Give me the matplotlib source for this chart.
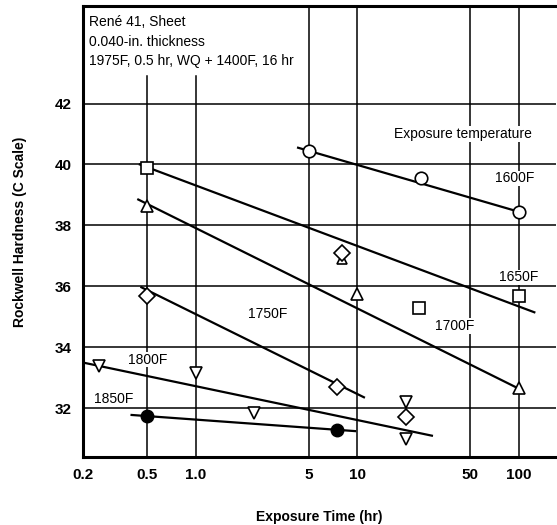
import matplotlib
matplotlib.use("Agg")
import matplotlib.pyplot as plt
from matplotlib.ticker import FixedLocator, NullLocator

plt.rcParams['font.family'] = ['Liberation Sans', 'DejaVu Sans']

# measured points (exposure time in hr, hardness HRC)
t_1600 = [5, 25, 100]
h_1600 = [40.45, 39.55, 38.45]
t_1650 = [0.5, 24, 100]
h_1650 = [39.9, 35.3, 35.7]
t_1700 = [0.5, 10, 100]
h_1700 = [38.65, 35.75, 32.65]
t_1750 = [0.5, 7.5, 20, 8]
h_1750 = [35.7, 32.7, 31.7, 37.1]
t_1700b = [8]
h_1700b = [36.9]
t_1800 = [0.25, 1.0, 2.3, 20, 20]
h_1800 = [33.4, 33.15, 31.85, 32.2, 31.0]
t_1850 = [0.5, 7.5]
h_1850 = [31.75, 31.3]

# fitted trend lines (end points)
fit_1600 = ([4.3, 100], [40.55, 38.45])
fit_1650 = ([0.45, 125], [40.0, 35.15])
fit_1700 = ([0.44, 104], [38.85, 32.6])
fit_1750 = ([0.46, 11], [35.97, 32.36])
fit_1800 = ([0.2, 29], [33.5, 31.1])
fit_1850 = ([0.4, 9.7], [31.78, 31.25])

xticks = [0.2, 0.5, 1.0, 5, 10, 50, 100]
xtick_labels = ["0.2", "0.5", "1.0", "5", "10", "50", "100"]
yticks = [32, 34, 36, 38, 40, 42]

fig = plt.figure(figsize=(5.57, 5.25), dpi=100)
ax = fig.add_axes([0.149, 0.1295, 0.849, 0.859])
ax.set_xscale("log")
ax.set_xlim(0.2, 170)
ax.set_ylim(30.4, 45.2)

# grid
for y in yticks:
    ax.axhline(y, color="black", lw=1.1, zorder=1)
for x in [5, 10, 50, 100]:
    ax.axvline(x, color="black", lw=1.1, zorder=1)
for x in [0.5, 1.0]:
    ax.plot([x, x], [30.4, 42.9], color="black", lw=1.1, zorder=1)

for xs, ys in [fit_1600, fit_1650, fit_1700, fit_1750, fit_1800, fit_1850]:
    ax.plot(xs, ys, color="black", lw=1.6, zorder=2)

mk = dict(linestyle="none", markerfacecolor="white", markeredgecolor="black",
          markeredgewidth=1.2, zorder=3)
ax.plot(t_1600, h_1600, marker="o", markersize=9, **mk)
ax.plot(t_1650, h_1650, marker="s", markersize=8, **mk)
ax.plot(t_1700, h_1700, marker="^", markersize=8, **mk)
ax.plot(t_1700b, h_1700b, marker="^", markersize=7, **mk)
ax.plot(t_1750, h_1750, marker="D", markersize=8, **mk)
ax.plot(t_1800, h_1800, marker="v", markersize=8, **mk)
ax.plot(t_1850, h_1850, marker="o", markersize=9, linestyle="none",
        color="black", zorder=3)

lab = dict(fontsize=10, ha="center", va="center", zorder=4,
           bbox=dict(facecolor="white", edgecolor="none", pad=0.5))
ax.text(45, 41.0, "Exposure temperature", **lab)
ax.text(95, 39.55, "1600F", **lab)
ax.text(100, 36.3, "1650F", **lab)
ax.text(2.8, 35.1, "1750F", **lab)
ax.text(40, 34.7, "1700F", **lab)
ax.text(0.5, 33.6, "1800F", **lab)
ax.text(0.31, 32.3, "1850F", **lab)

ax.text(0.218, 44.9, "René 41, Sheet\n0.040-in. thickness\n1975F, 0.5 hr, WQ + 1400F, 16 hr",
        fontsize=10, ha="left", va="top", linespacing=1.5, zorder=4)

ax.xaxis.set_major_locator(FixedLocator(xticks))
ax.xaxis.set_minor_locator(NullLocator())
ax.set_xticklabels(xtick_labels)
ax.set_yticks(yticks)
ax.tick_params(axis="both", length=0, pad=8, labelsize=11)
for lbl in ax.get_xticklabels() + ax.get_yticklabels():
    lbl.set_fontweight("bold")

for side in ["left", "bottom", "top"]:
    ax.spines[side].set_linewidth(2.2)
ax.spines["right"].set_visible(False)

ax.set_xlabel("Exposure Time (hr)", fontsize=10, fontweight="bold", labelpad=20)
ax.set_ylabel("Rockwell Hardness (C Scale)", fontsize=10, fontweight="bold", labelpad=20)

fig.savefig("out.png", dpi=100)
